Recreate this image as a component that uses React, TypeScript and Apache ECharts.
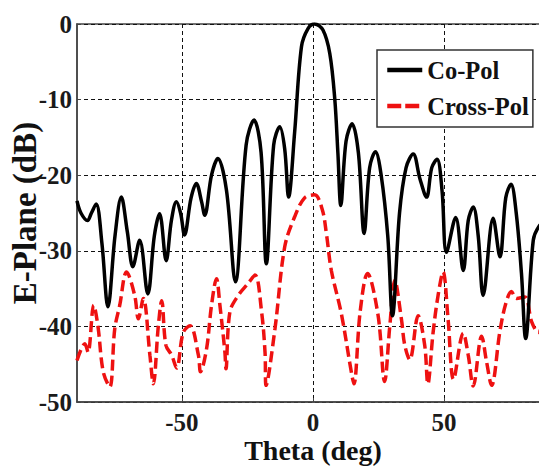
import React, { useEffect, useRef } from "react";
import * as echarts from "echarts";

// Co-Pol pattern (theta in deg, level in dB)
const coTheta = [
  -90, -88.5, -86, -84.5, -82.7, -80.5, -78.2, -75.5, -73.1, -70.8, -68.7, -66.1, -63, -60.5, -58.5, -56, -54,
  -52.1, -50.5, -49, -46.5, -44.5, -42.5, -41.3, -38.7, -36.3, -33, -29.6, -25.5, -22.5, -19.8, -17.8, -15, -12.7,
  -10.8, -9.3, -7, -4.4, -1.9, 0.6, 3.8, 6.4, 8.3, 9.5, 10.6, 12.6, 14.9, 17.3, 19.5, 21.6, 23.8, 26, 28.5, 30.3,
  33, 35.5, 38.2, 40.8, 43.3, 45.3, 47.3, 49.2, 50.9, 54.4, 57.3, 59.2, 61.1, 63, 64.9, 68.7, 71.3, 73.5, 75.5,
  77.5, 79.5, 81.1, 84, 86.1, 90,
];
const coPol = [
  -23.4, -25, -26, -25, -23.8, -29, -37.4, -28, -22.9, -27.5, -32.1, -28.6, -35.7, -28, -25.1, -31.3, -26,
  -23.5, -25, -27.9, -23, -21.1, -23.5, -25.3, -20, -17.8, -22, -34.1, -16, -12.7, -17, -31.7, -16, -13.6,
  -16.5, -22.9, -14.3, -3.0, -0.6, 0, -0.8, -3.9, -9.9, -17.1, -24, -15.5, -13.2, -17, -27.7, -19, -16.9, -20, -28, -38.6,
  -25, -19, -17.2, -20.5, -22.9, -19, -17.9, -22, -30.2, -25.6, -32.6, -26, -24.2, -28, -35.9, -25.7, -30.8, -23, -21.2,
  -25, -33, -41.6, -28.6, -26.8, -25.5,
];

// Cross-Pol pattern (theta in deg, level in dB)
const crossTheta = [
  -90, -87, -85.8, -83.6, -82, -80, -77.5, -75.6, -73.7, -71.1, -68, -66.6, -64.7, -62.2, -60.9, -59, -57.7,
  -56.1, -53.9, -52, -49.5, -46.9, -43.7, -42.9, -40.6, -38.7, -36.8, -35.5, -33.6, -33.2, -31.7, -28.5, -24.7,
  -22.1, -19.6, -18.3, -17.9, -14.5, -10.8, -7, -3.2, 0.6, 3.5, 5.1, 7, 10.8, 14.7, 15.6, 18, 20.8, 24.8, 27.3,
  29.3, 31.2, 33.7, 35, 36.9, 40.1, 42.6, 43.8, 45.8, 47.7, 49.6, 51.5, 53.6, 57.3, 59.2, 61.1, 64.3, 66.2,
  68.1, 71.3, 73.5, 75.7, 77.6, 80.8, 83.4, 85.9, 88, 90,
];
const crossPol = [
  -44.5, -42.3, -43.4, -37.2, -40, -46, -48.0, -40.3, -37.2, -32.8, -35.9, -39.0, -36.3, -43.8, -47.6, -40, -36.6,
  -42.5, -43.8, -45.5, -40.8, -39.9, -43.8, -46.0, -43.0, -37.2, -33.7, -37.2, -43.4, -45.6, -38.1, -35.9, -34.3,
  -33.2, -38.1, -43.4, -47.8, -40.3, -29.5, -25.5, -23.0, -22.6, -24.5, -27.7, -32.6, -38.3, -46.2, -47.6, -38, -33.0, -38.5, -47.3,
  -39.9, -33.9, -39.0, -42.5, -44.4, -38.6, -42.5, -47.6, -40.8, -35.9, -32.8, -39, -47, -40.9, -43.8, -47.9, -41.3, -44.7,
  -47.8, -40.6, -37, -35.4, -36.3, -36.1, -39.4, -40.8, -39, -37,
];

// Axis ticks
const xTicks = [-50, 0, 50];
const yMin = -50;
const yMax = 0;
const yStep = 10;

const serif = "Liberation Serif";

export default function App() {
  const ref = useRef<HTMLDivElement>(null);

  useEffect(() => {
    if (!ref.current) return;
    const chart = echarts.init(ref.current, undefined, { renderer: "svg" });
    const coData = coTheta.map((t, i) => [t, coPol[i]]);
    const crossData = crossTheta.map((t, i) => [t, crossPol[i]]);
    const labelStyle = { fontFamily: serif, fontWeight: "bold" as const, fontSize: 25, color: "#1a1a1a" };
    const gridLine = { show: true, lineStyle: { color: "#111", width: 1, type: [4, 3] as number[] } };

    chart.setOption({
      animation: false,
      backgroundColor: "#ffffff",
      textStyle: { fontFamily: serif },
      grid: {
        left: 77,
        top: 24,
        right: -10,
        bottom: 67,
        containLabel: false,
        outerBoundsMode: "none",
        show: true,
        borderColor: "#444",
        borderWidth: 1.5,
        backgroundColor: "transparent",
      },
      legend: {
        orient: "vertical",
        left: 377,
        top: 50,
        padding: [7, 4, 8, 8],
        itemGap: 10,
        itemWidth: 35,
        itemHeight: 14,
        backgroundColor: "#ffffff",
        borderColor: "#333",
        borderWidth: 1.5,
        borderRadius: 0,
        itemStyle: { opacity: 0 },
        textStyle: { fontFamily: serif, fontWeight: "bold", fontSize: 24.5, color: "#111", lineHeight: 26 },
        data: [
          { name: "Co-Pol", lineStyle: { width: 4.5 } },
          { name: "Cross-Pol", lineStyle: { width: 4.5, type: [14, 4] } },
        ],
      },
      xAxis: {
        type: "value",
        min: -90,
        max: 90,
        name: "Theta (deg)",
        nameLocation: "middle",
        nameGap: 34,
        nameMoveOverlap: false,
        nameTextStyle: { fontFamily: serif, fontWeight: "bold", fontSize: 28, color: "#111" },
        axisLine: { show: true, onZero: false, lineStyle: { color: "#444", width: 1.5 } },
        axisTick: { show: true, inside: true, length: 4, customValues: xTicks, lineStyle: { color: "#444" } },
        axisLabel: { ...labelStyle, margin: 8, customValues: xTicks },
        splitLine: gridLine,
      },
      yAxis: {
        type: "value",
        min: yMin,
        max: yMax,
        interval: yStep,
        name: "E-Plane (dB)",
        nameLocation: "middle",
        nameGap: 36,
        nameMoveOverlap: false,
        nameTextStyle: { fontFamily: serif, fontWeight: "bold", fontSize: 33, color: "#111" },
        axisLine: { show: true, onZero: false, lineStyle: { color: "#444", width: 1.5 } },
        axisTick: { show: true, inside: true, length: 4, lineStyle: { color: "#444" } },
        axisLabel: { ...labelStyle, margin: 5 },
        splitLine: gridLine,
      },
      series: [
        {
          name: "Co-Pol",
          type: "line",
          data: coData,
          symbol: "none",
          smooth: 0.35,
          lineStyle: { color: "#000000", width: 3.5 },
          itemStyle: { color: "#000000" },
          z: 3,
        },
        {
          name: "Cross-Pol",
          type: "line",
          data: crossData,
          symbol: "none",
          smooth: 0.35,
          lineStyle: { color: "#ee1111", width: 3.5, type: [11, 5] },
          itemStyle: { color: "#ee1111" },
          z: 2,
        },
      ],
    });
    return () => chart.dispose();
  }, []);

  return <div ref={ref} style={{ width: 539, height: 469, position: "absolute", left: 0, top: 0 }} />;
}
